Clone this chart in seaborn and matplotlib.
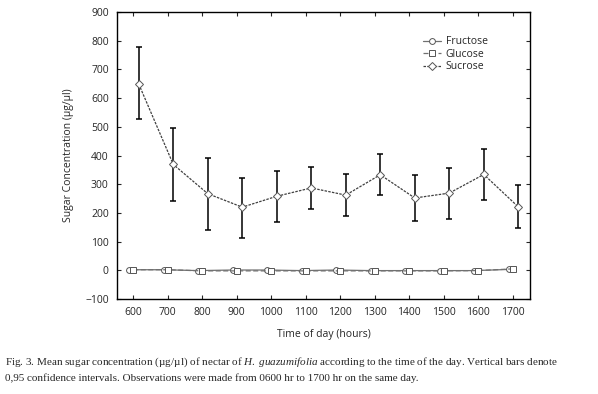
import matplotlib
matplotlib.use("Agg")
import matplotlib.pyplot as plt
import seaborn as sns
import pandas as pd

# Datos
hours = [600, 700, 800, 900, 1000, 1100, 1200, 1300, 1400, 1500, 1600, 1700]
fructose = [2, 2, -1, 1, 1, -1, 1, -1, -1, -1, -1, 3]
glucose = [2, 2, -2, -2, -2, -2, -2, -2, -2, -2, -1, 5]
sucrose = [649, 369, 267, 220, 258, 287, 262, 333, 252, 269, 334, 221]
sucrose_hi = [778, 497, 393, 323, 347, 361, 337, 406, 333, 358, 424, 296]
sucrose_lo = [526, 243, 142, 114, 170, 215, 190, 261, 173, 180, 246, 149]
tick_labels = ["600", "700", "800", "900", "1000", "1100", "1200", "1300",
               "1400", "1500", "1600", "1700"]

sns.set_style("ticks")
plt.rcParams["font.family"] = ["Open Sans", "DejaVu Sans"]
plt.rcParams["mathtext.fontset"] = "custom"
plt.rcParams["mathtext.rm"] = "Liberation Serif"
plt.rcParams["mathtext.it"] = "Liberation Serif:italic"

pos = [h / 100 for h in hours]
df = pd.DataFrame({
    "x": pos * 3,
    "valor": fructose + glucose + sucrose,
    "azucar": ["Fructose"] * 12 + ["Glucose"] * 12 + ["Sucrose"] * 12,
})
offsets = {"Fructose": -0.12, "Glucose": 0.0, "Sucrose": 0.16}
df["x"] = df["x"] + df["azucar"].map(offsets)

fig = plt.figure(figsize=(5.98, 3.94), dpi=100)
ax = fig.add_axes([0.1957, 0.2411, 0.6906, 0.7284])

styles = {
    "Fructose": dict(ls="-", marker="o", color="#707070", ms=4.2, zorder=3),
    "Glucose": dict(ls=(0, (4, 2)), marker="s", color="#707070", ms=4.2, zorder=4),
    "Sucrose": dict(ls=(0, (2, 1)), marker="D", color="#404040", ms=3.6, zorder=5),
}
for name, st in styles.items():
    sub = df[df["azucar"] == name]
    sns.lineplot(data=sub, x="x", y="valor", ax=ax, label=name,
                 linestyle=st["ls"], marker=st["marker"], color=st["color"],
                 markersize=st["ms"], markerfacecolor="white",
                 markeredgecolor="#555555", markeredgewidth=0.7, lw=0.9,
                 zorder=st["zorder"])

sx = [p + offsets["Sucrose"] for p in pos]
err_lo = [s - l for s, l in zip(sucrose, sucrose_lo)]
err_hi = [h - s for s, h in zip(sucrose, sucrose_hi)]
ax.errorbar(sx, sucrose, yerr=[err_lo, err_hi], fmt="none", ecolor="black",
            elinewidth=1.1, capsize=2.5, capthick=1.1, zorder=2)

ax.set_xlim(5.53, 17.5)
ax.set_ylim(-100, 900)
ax.set_xticks(pos)
ax.set_xticklabels(tick_labels)
ax.set_yticks(range(-100, 901, 100))
ax.tick_params(direction="in", top=True, right=True, length=3,
               labelsize=7.5, width=0.8, pad=6)
for sp in ax.spines.values():
    sp.set_linewidth(1.0)
    sp.set_color("black")

ax.set_xlabel("Time of day (hours)", fontsize=7.5, labelpad=8)
ax.set_ylabel("Sugar Concentration (µg/µl)", fontsize=7.5, labelpad=8)

leg = ax.legend(loc="upper left", bbox_to_anchor=(0.73, 0.93), frameon=False,
                fontsize=7.5, handlelength=1.8, handletextpad=0.4,
                labelspacing=0.15, borderaxespad=0)

cap_font = ["Liberation Serif", "DejaVu Serif"]
fig.text(0.009, 0.081, "Fig. 3. Mean sugar concentration (µg/µl) of nectar of $\\it{H.}$ $\\it{guazumifolia}$ "
         "according to the time of the day. Vertical bars denote",
         fontsize=8, family=cap_font, va="center")
fig.text(0.009, 0.041, "0,95 confidence intervals. Observations were made from 0600 hr to 1700 hr on the same day.",
         fontsize=8, family=cap_font, va="center")

fig.savefig("out.png", dpi=100)
